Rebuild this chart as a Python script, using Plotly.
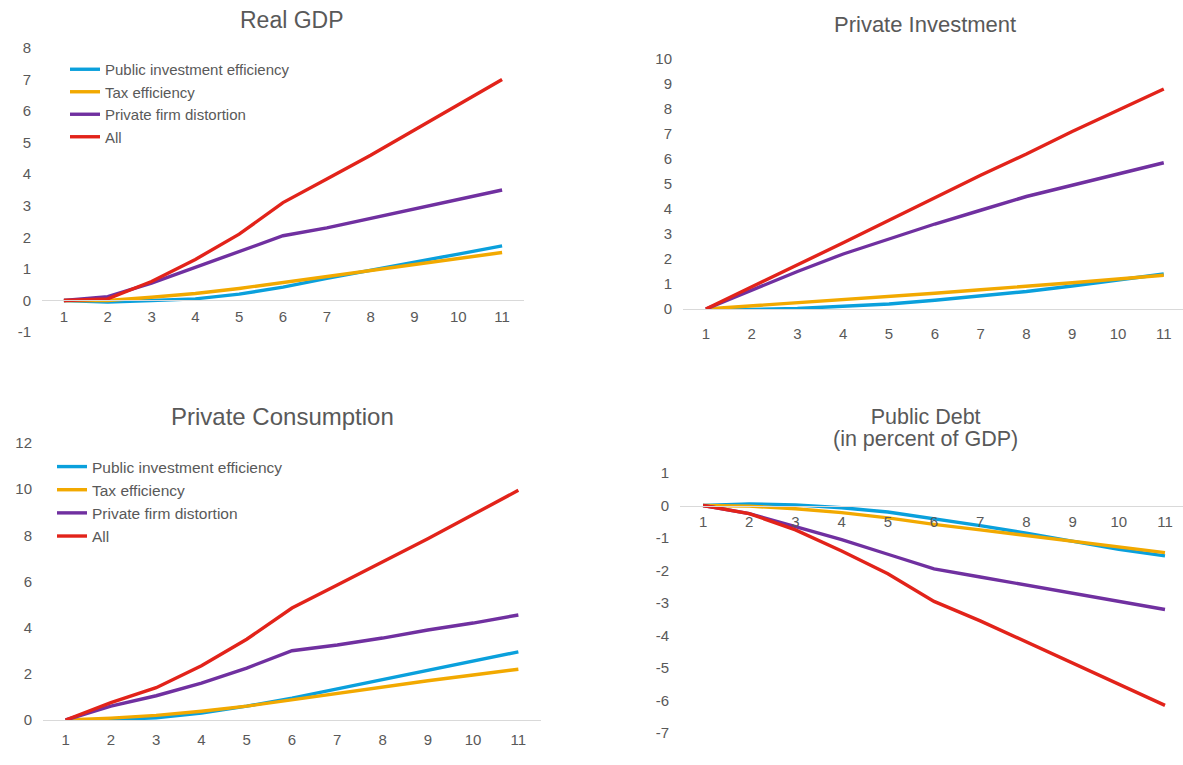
import plotly.graph_objects as go

periods = list(range(1, 12))
series_names = ["Public investment efficiency", "Tax efficiency", "Private firm distortion", "All"]
colors = ["#0aa0dc", "#f2a900", "#7030a0", "#e2231a"]

gdp_public = [0, -0.05, 0.0, 0.05, 0.2, 0.42, 0.7, 0.95, 1.2, 1.47, 1.73]
gdp_tax = [0, 0.0, 0.1, 0.22, 0.38, 0.57, 0.76, 0.95, 1.15, 1.33, 1.52]
gdp_firm = [0, 0.12, 0.55, 1.05, 1.55, 2.05, 2.3, 2.6, 2.9, 3.2, 3.5]
gdp_all = [0, 0.05, 0.6, 1.3, 2.1, 3.1, 3.85, 4.6, 5.4, 6.2, 7.0]

inv_public = [0, -0.02, 0.02, 0.1, 0.2, 0.35, 0.52, 0.7, 0.92, 1.15, 1.4]
inv_tax = [0, 0.12, 0.25, 0.37, 0.5, 0.63, 0.77, 0.9, 1.05, 1.2, 1.35]
inv_firm = [0, 0.75, 1.5, 2.2, 2.8, 3.4, 3.95, 4.5, 4.95, 5.4, 5.85]
inv_all = [0, 0.88, 1.75, 2.65, 3.55, 4.45, 5.35, 6.2, 7.1, 7.95, 8.8]

cons_public = [0, 0.0, 0.1, 0.3, 0.6, 0.95, 1.35, 1.75, 2.15, 2.55, 2.95]
cons_tax = [0, 0.08, 0.2, 0.38, 0.6, 0.88, 1.15, 1.45, 1.7, 1.95, 2.2]
cons_firm = [0, 0.6, 1.05, 1.6, 2.25, 3.0, 3.25, 3.55, 3.9, 4.2, 4.55]
cons_all = [0, 0.75, 1.4, 2.35, 3.5, 4.85, 5.85, 6.85, 7.85, 8.9, 9.95]

debt_public = [0, 0.05, 0.02, -0.07, -0.2, -0.4, -0.62, -0.85, -1.1, -1.35, -1.55]
debt_tax = [0, -0.02, -0.1, -0.22, -0.38, -0.58, -0.75, -0.92, -1.1, -1.28, -1.45]
debt_firm = [0, -0.25, -0.65, -1.05, -1.5, -1.95, -2.2, -2.45, -2.7, -2.95, -3.2]
debt_all = [0, -0.25, -0.75, -1.4, -2.1, -2.95, -3.55, -4.2, -4.85, -5.5, -6.15]

titles = ["Real GDP", "Private Investment", "Private Consumption",
          "<span style='font-size:21.5px'>Public Debt<br>(in percent of GDP)</span>"]

W, H = 1183, 765
GRAY = "#595959"
FONT = "Liberation Sans, Arial, sans-serif"

def px_x(a, b):
    return [a / W, min(b / W, 1.0)]

def px_y(top, bottom):
    return [1 - bottom / H, 1 - top / H]

panels = [
    dict(data=[gdp_public, gdp_tax, gdp_firm, gdp_all], xd=px_x(42, 524), xr=[0.5, 11.5],
         yd=px_y(48, 332), yr=[-1, 8], dtick=1, legend="legend", stand=3),
    dict(data=[inv_public, inv_tax, inv_firm, inv_all], xd=px_x(683, 1183), xr=[0.5, 11.42],
         yd=px_y(59, 309), yr=[0, 10], dtick=1, legend=None, stand=11),
    dict(data=[cons_public, cons_tax, cons_firm, cons_all], xd=px_x(43, 541), xr=[0.5, 11.5],
         yd=px_y(443, 720), yr=[0, 12], dtick=2, legend="legend2", stand=6),
    dict(data=[debt_public, debt_tax, debt_firm, debt_all], xd=px_x(680, 1183), xr=[0.5, 11.39],
         yd=px_y(473, 733), yr=[-7, 1], dtick=1, legend=None, stand=2),
]

fig = go.Figure()
layout = dict(
    template="none",
    width=W, height=H, margin=dict(l=0, r=0, t=0, b=0, autoexpand=False),
    paper_bgcolor="white", plot_bgcolor="white",
    font=dict(family=FONT, color=GRAY, size=15),
    annotations=[],
)

for i, p in enumerate(panels):
    n = i + 1
    xa = "x" if n == 1 else f"x{n}"
    ya = "y" if n == 1 else f"y{n}"
    for j, (name, col) in enumerate(zip(series_names, colors)):
        tr = dict(x=periods, y=p["data"][j], mode="lines", name=name,
                  line=dict(color=col, width=3.4), xaxis=xa, yaxis=ya,
                  legendgroup=name, showlegend=p["legend"] is not None)
        if p["legend"]:
            tr["legend"] = p["legend"]
        fig.add_trace(go.Scatter(**tr))
    y0, y1 = p["yd"]
    r0, r1 = p["yr"]
    zero_pos = y0 + (0 - r0) / (r1 - r0) * (y1 - y0)
    yt = list(range(r0, r1 + 1, p["dtick"]))
    layout["xaxis" if n == 1 else f"xaxis{n}"] = dict(
        domain=p["xd"], range=p["xr"], anchor="free", position=zero_pos,
        tickmode="array", tickvals=periods, ticktext=[str(v) for v in periods],
        showline=True, linecolor="#d9d9d9", linewidth=1, showgrid=False, zeroline=False,
        ticks="", ticklabelstandoff=p["stand"], tickfont=dict(size=15, color=GRAY),
        automargin=False,
    )
    layout["yaxis" if n == 1 else f"yaxis{n}"] = dict(
        domain=p["yd"], range=p["yr"], anchor=xa,
        tickmode="array", tickvals=yt, ticktext=[str(v) for v in yt],
        showline=False, showgrid=False, zeroline=False, ticks="",
        ticklabelstandoff=10, tickfont=dict(size=15, color=GRAY),
        automargin=False,
    )

layout["legend"] = dict(x=65 / W, y=1 - 53 / H, xanchor="left", yanchor="top",
                        bgcolor="rgba(0,0,0,0)", font=dict(size=15, color=GRAY),
                        traceorder="grouped", tracegroupgap=0, itemwidth=30)
layout["legend2"] = dict(x=52 / W, y=1 - 450 / H, xanchor="left", yanchor="top",
                         bgcolor="rgba(0,0,0,0)", font=dict(size=15.5, color=GRAY),
                         traceorder="grouped", tracegroupgap=0, itemwidth=30)

title_pos = [(292, 20, 23), (925, 25, 22), (282, 417, 24), (925, 428, 17)]
for t, (cx, cy, fs) in zip(titles, title_pos):
    layout["annotations"].append(dict(
        text=t, x=cx / W, y=1 - cy / H, xref="paper", yref="paper",
        xanchor="center", yanchor="middle", showarrow=False,
        font=dict(size=fs, color=GRAY, family=FONT)))

fig.update_layout(**layout)
fig.write_html("out.html", config={"displayModeBar": False},
               post_script="document.body.style.margin='0';")
